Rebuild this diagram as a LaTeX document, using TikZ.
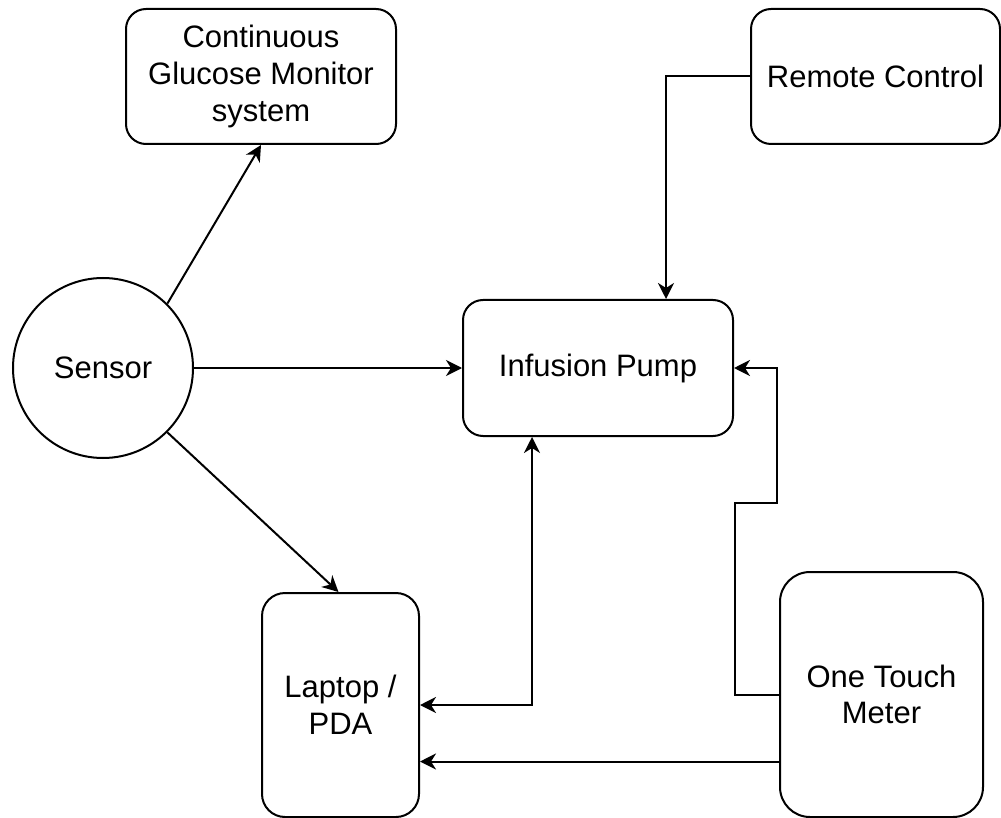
\documentclass[tikz,border=0pt]{standalone}
\usepackage{fontspec}
\setmainfont{Liberation Sans}
\usepackage{tikz}
\usetikzlibrary{arrows.meta,positioning,calc}
\tikzset{
  box/.style    ={draw,rounded corners=10pt,line width=1pt,inner sep=0pt,align=center,
                  font=\fontsize{15.5}{18.3}\selectfont},
  disc/.style   ={circle,draw,line width=1pt,minimum size=90pt,inner sep=0pt,
                  font=\fontsize{15.5}{18.3}\selectfont},
  link/.style   ={-{Stealth[length=8pt,width=8pt,inset=2.5pt]},line width=1pt},
  twolink/.style={{Stealth[length=8pt,width=8pt,inset=2.5pt]}-{Stealth[length=8pt,width=8pt,inset=2.5pt]},line width=1pt},
}

\begin{document}
\begin{tikzpicture}[x=0.5pt,y=-0.5pt]
  \useasboundingbox (0,0) rectangle (1001,818);
  % devices
  \node[box,minimum width=135pt,minimum height=67.5pt] (cgm) at (261,76.5)
    {Continuous\\Glucose Monitor\\system};
  \node[box,minimum width=124.5pt,minimum height=67.5pt] (remote) at (875.5,76.5)
    {Remote Control};
  \node[disc] (sensor) at (103,368) {Sensor};
  \node[box,minimum width=135pt,minimum height=68pt] (pump) at (598,368)
    {Infusion Pump};
  \node[box,rounded corners=11.5pt,minimum width=78.5pt,minimum height=112pt] (laptop) at (340.5,705)
    {Laptop /\\PDA};
  \node[box,rounded corners=15pt,minimum width=101.5pt,minimum height=122.5pt] (meter) at (881.5,694.5)
    {One Touch\\Meter};
  % sensor outputs
  \draw[link] (sensor.45) -- (cgm.south);
  \draw[link] (sensor.east) -- (pump.west);
  \draw[link] (sensor.-45) -- ($(laptop.north)+(-2,0)$);
  % remote to pump
  \draw[link] (remote.west) -| ($(pump.north)+(68,0)$);
  % laptop and pump
  \draw[twolink] (laptop.east) -| ($(pump.south)+(-66,0)$);
  % meter outputs
  \draw[link] (meter.west) -- ++(-44,0) -- ++(0,-192) -- ++(42,0) |- (pump.east);
  \draw[link] ($(meter.west)+(0,67)$) coordinate (mlow) -- (mlow -| laptop.east);
\end{tikzpicture}
\end{document}
